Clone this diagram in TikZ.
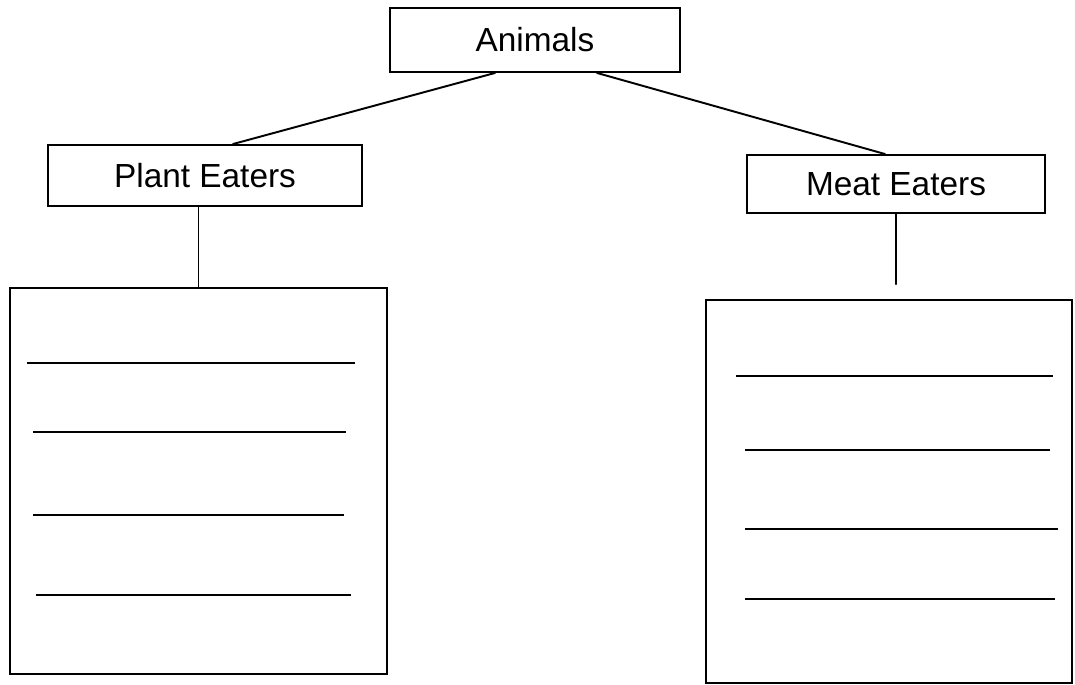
\documentclass[tikz,border=0pt]{standalone}
\usepackage{fontspec}
\setmainfont{Liberation Sans}
\usepackage{tikz}
\usetikzlibrary{positioning}

\begin{document}
\begin{tikzpicture}[x=0.02cm, y=-0.02cm, line width=1.1pt]

        % Define block styles
        \tikzstyle{heading} = [rectangle, draw, fill=white, text centered, font=\fontsize{19}{23}\selectfont]
        \tikzstyle{listbox} = [rectangle, draw, fill=white]
        \tikzstyle{conn} = [draw, line cap=round]

        \useasboundingbox (0,0) rectangle (1075,685);

        % Components
        \node (animals) [heading, minimum width=5.8cm, minimum height=1.28cm] at (535,40) {Animals};
        \node (plant) [heading, minimum width=6.28cm, minimum height=1.22cm] at (205,175.5) {Plant Eaters};
        \node (meat) [heading, minimum width=5.96cm, minimum height=1.16cm] at (896,184) {Meat Eaters};
        \node (plantlist) [listbox, minimum width=7.54cm, minimum height=7.72cm] at (198.5,481) {};
        \node (meatlist) [listbox, minimum width=7.32cm, minimum height=7.66cm] at (889,491.5) {};

        % Lines to write on
        \foreach \y/\a/\b in {363/27/355, 432/33/346, 515/33/344, 595/36/351}
            \draw (\a,\y) -- (\b,\y);
        \foreach \y/\a/\b in {376/736/1053, 450/745/1050, 529/745/1058, 599/745/1055}
            \draw (\a,\y) -- (\b,\y);

        % Connectors
        \draw [conn] ([xshift=-0.8cm]animals.south) -- ([xshift=0.56cm]plant.north);
        \draw [conn] ([xshift=1.24cm]animals.south) -- ([xshift=-0.22cm]meat.north);
        \draw [conn] (plantlist.north |- plant.south) -- (plantlist.north);
        \draw [conn, shorten >=0.3cm] (meat.south) -- (meat.south |- meatlist.north);

      \end{tikzpicture}
\end{document}
